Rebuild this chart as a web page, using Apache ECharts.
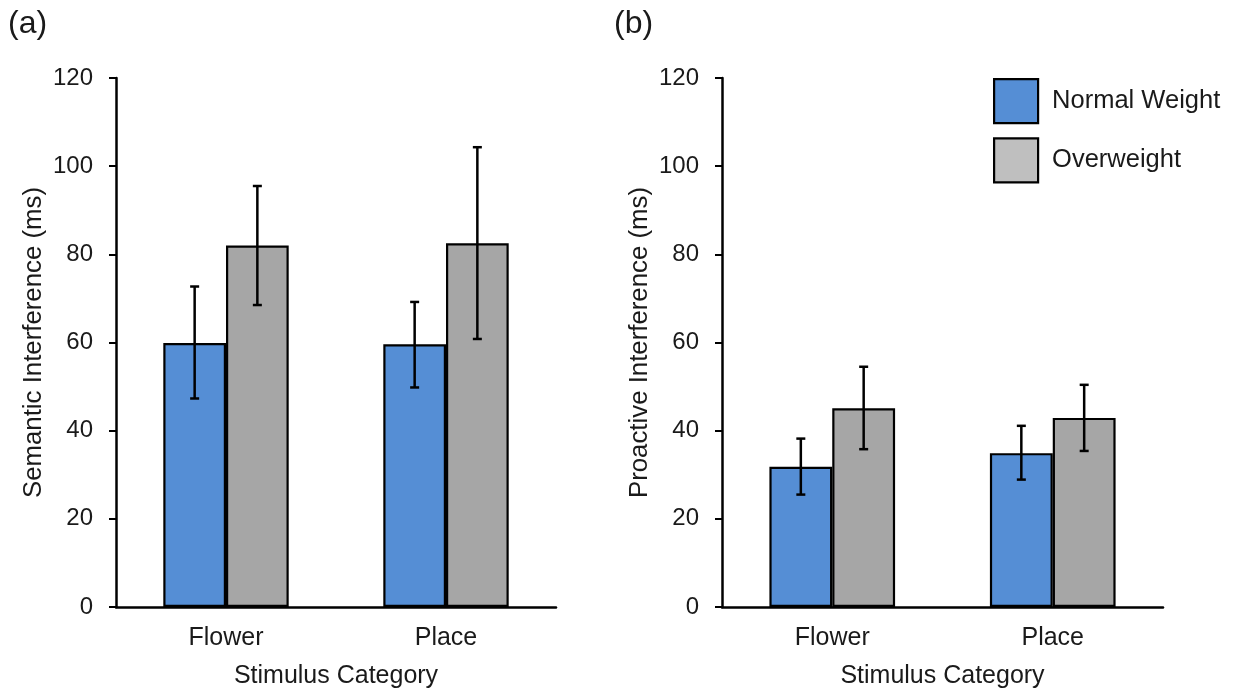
<!DOCTYPE html>
<html>
<head>
<meta charset="utf-8">
<script src="https://cdn.jsdelivr.net/npm/echarts@6/dist/echarts.min.js"></script>
<style>html,body{margin:0;padding:0;background:#fff}#c{width:1234px;height:692px}</style>
</head>
<body>
<div id="c"></div>
<script>
var categories = ['Flower', 'Place'];
var seriesNames = ['Normal Weight', 'Overweight'];
var yTicks = [0, 20, 40, 60, 80, 100, 120];

var semNormal = [59.9, 59.6];
var semNormalLow = [47.3, 49.8];
var semNormalHigh = [72.7, 69.2];
var semOver = [82.0, 82.5];
var semOverLow = [68.5, 60.8];
var semOverHigh = [95.5, 104.3];

var proNormal = [31.8, 34.9];
var proNormalLow = [25.5, 28.9];
var proNormalHigh = [38.2, 41.1];
var proOver = [45.1, 42.9];
var proOverLow = [35.8, 35.4];
var proOverHigh = [54.5, 50.4];

var FONT = 'Liberation Sans, Arial, sans-serif';
var BLUE = '#558ED5';
var GRAY = '#A6A6A6';
var GAP = 0.43;
var TXT = '#1a1a1a';

function errData(low, high) {
  return categories.map(function (c, i) { return [i, low[i], high[i]]; });
}
function errSeries(name, low, high, idx, side) {
  return {
    type: 'custom', name: name + ' err', xAxisIndex: idx, yAxisIndex: idx, z: 10,
    silent: true,
    data: errData(low, high),
    encode: { x: 0, y: [1, 2] },
    renderItem: function (params, api) {
      var bw = api.size([1, 0])[0];
      var off = side * bw * (1 - GAP) / 4;
      var p1 = api.coord([api.value(0), api.value(1)]);
      var p2 = api.coord([api.value(0), api.value(2)]);
      var x = p1[0] + off;
      var cap = 4.5;
      var st = { stroke: '#000', lineWidth: 2.5 };
      return {
        type: 'group', children: [
          { type: 'line', shape: { x1: x, y1: p1[1], x2: x, y2: p2[1] }, style: st },
          { type: 'line', shape: { x1: x - cap, y1: p1[1], x2: x + cap, y2: p1[1] }, style: st },
          { type: 'line', shape: { x1: x - cap, y1: p2[1], x2: x + cap, y2: p2[1] }, style: st }
        ]
      };
    }
  };
}
function barSeries(name, data, color, idx) {
  return {
    type: 'bar', name: name, xAxisIndex: idx, yAxisIndex: idx, data: data,
    barGap: '0%', barCategoryGap: (GAP * 100) + '%',
    itemStyle: { color: color, borderColor: '#000', borderWidth: 2.2 },
    emphasis: { disabled: true }
  };
}
function xAxis(idx) {
  return {
    type: 'category', gridIndex: idx, data: categories,
    axisLine: { lineStyle: { color: '#000', width: 2.5 } },
    axisTick: { show: false },
    axisLabel: { color: TXT, fontSize: 25, fontFamily: FONT, margin: 19 },
    name: 'Stimulus Category', nameLocation: 'middle', nameGap: 57,
    nameTextStyle: { color: TXT, fontSize: 25, fontFamily: FONT }
  };
}
function yAxis(idx, title) {
  return {
    type: 'value', gridIndex: idx, min: yTicks[0], max: yTicks[yTicks.length - 1], interval: 20,
    axisLine: { show: true, lineStyle: { color: '#000', width: 2.5 } },
    axisTick: { show: true, length: 7, lineStyle: { color: '#000', width: 2 } },
    splitLine: { show: false },
    axisLabel: { color: TXT, fontSize: 24, fontFamily: FONT, margin: 23 },
    name: title, nameLocation: 'middle', nameGap: 69, nameRotate: 90,
    nameTextStyle: { color: TXT, fontSize: 25.8, fontFamily: FONT }
  };
}

var chart = echarts.init(document.getElementById('c'), null, { renderer: 'canvas' });
chart.setOption({
  animation: false,
  backgroundColor: '#fff',
  textStyle: { fontFamily: FONT },
  title: [
    { text: '(a)', left: 3, top: 3, textStyle: { fontSize: 32, fontWeight: 'normal', color: TXT, fontFamily: FONT } },
    { text: '(b)', left: 609, top: 3, textStyle: { fontSize: 32, fontWeight: 'normal', color: TXT, fontFamily: FONT } }
  ],
  legend: {
    orient: 'vertical', left: 993, top: 78, padding: 0, itemWidth: 44, itemHeight: 44, itemGap: 13,
    icon: 'rect',
    textStyle: { fontSize: 25.5, color: TXT, fontFamily: FONT, padding: [3, 0, 0, 9] },
    data: [
      { name: seriesNames[0], itemStyle: { color: BLUE, borderColor: '#000', borderWidth: 2.2 } },
      { name: seriesNames[1], itemStyle: { color: '#BFBFBF', borderColor: '#000', borderWidth: 2.2 } }
    ],
    selectedMode: false
  },
  grid: [
    { left: 116, top: 78, width: 440, height: 529, outerBoundsMode: 'none', containLabel: false },
    { left: 722, top: 78, width: 441, height: 529, outerBoundsMode: 'none', containLabel: false }
  ],
  xAxis: [xAxis(0), xAxis(1)],
  yAxis: [yAxis(0, 'Semantic Interference (ms)'), yAxis(1, 'Proactive Interference (ms)')],
  series: [
    barSeries(seriesNames[0], semNormal, BLUE, 0),
    barSeries(seriesNames[1], semOver, GRAY, 0),
    barSeries(seriesNames[0], proNormal, BLUE, 1),
    barSeries(seriesNames[1], proOver, GRAY, 1),
    errSeries(seriesNames[0], semNormalLow, semNormalHigh, 0, -1),
    errSeries(seriesNames[1], semOverLow, semOverHigh, 0, 1),
    errSeries(seriesNames[0], proNormalLow, proNormalHigh, 1, -1),
    errSeries(seriesNames[1], proOverLow, proOverHigh, 1, 1)
  ]
});
</script>
</body>
</html>
